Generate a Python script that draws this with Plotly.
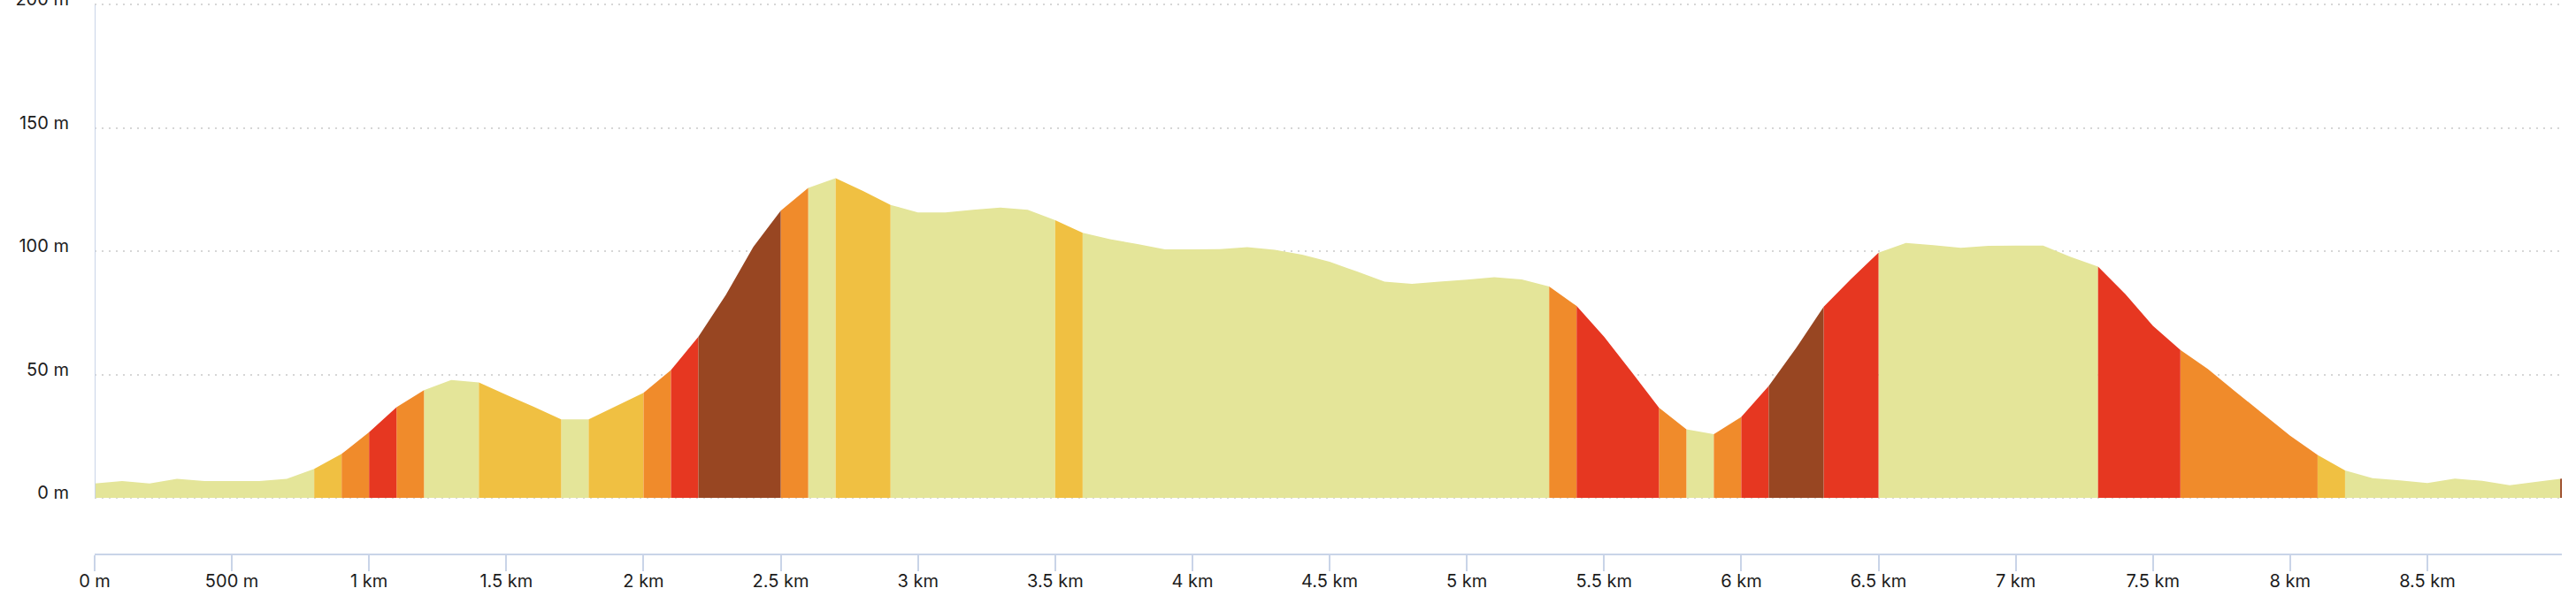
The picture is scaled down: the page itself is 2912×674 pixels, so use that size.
import plotly.graph_objects as go

# ---- data ----
distance_km = [
    0.0, 0.1, 0.2, 0.3, 0.4, 0.5, 0.6, 0.7, 0.8, 0.9,
    1.0, 1.1, 1.2, 1.3, 1.4, 1.5, 1.6, 1.7, 1.8, 1.9,
    2.0, 2.1, 2.2, 2.3, 2.4, 2.5, 2.6, 2.7, 2.8, 2.9,
    3.0, 3.1, 3.2, 3.3, 3.4, 3.5, 3.6, 3.7, 3.8, 3.9,
    4.0, 4.1, 4.2, 4.3, 4.4, 4.5, 4.6, 4.7, 4.8, 4.9,
    5.0, 5.1, 5.2, 5.3, 5.4, 5.5, 5.6, 5.7, 5.8, 5.9,
    6.0, 6.1, 6.2, 6.3, 6.4, 6.5, 6.6, 6.7, 6.8, 6.9,
    7.0, 7.1, 7.2, 7.3, 7.4, 7.5, 7.6, 7.7, 7.8, 7.9,
    8.0, 8.1, 8.2, 8.3, 8.4, 8.5, 8.6, 8.7, 8.8, 8.9,
    8.984, 8.99,
]

elevation_m = [
    5.8, 6.8, 5.8, 7.7, 6.8, 6.8, 6.8, 7.7, 11.7, 17.8,
    26.6, 36.8, 43.7, 47.8, 46.8, 41.8, 36.9, 31.8, 31.8, 37.2,
    42.6, 51.8, 65.4, 82.3, 101.8, 116.5, 125.7, 129.7, 124.5, 118.8,
    115.8, 115.8, 116.8, 117.7, 116.8, 112.6, 107.5, 104.9, 102.9, 100.8,
    100.8, 100.9, 101.7, 100.6, 98.6, 95.8, 91.8, 87.7, 86.8, 87.7,
    88.5, 89.5, 88.6, 85.7, 77.8, 65.4, 51.1, 36.6, 27.8, 25.8,
    32.8, 45.4, 60.8, 77.5, 88.8, 99.4, 103.4, 102.5, 101.4, 102.2,
    102.3, 102.3, 97.7, 93.8, 82.6, 69.8, 60.0, 52.3, 43.1, 34.2,
    25.2, 17.4, 11.1, 8.0, 7.1, 6.0, 7.8, 6.9, 5.1, 6.5,
    7.7, 7.8,
]

# gradient class of each segment between consecutive points
# L = gentle, Y = moderate, O = steep, R = very steep, B = extreme
segment_grade = [
    "L", "L", "L", "L", "L", "L", "L", "L", "Y", "O",   # 0.0 - 1.0
    "R", "O", "L", "L", "Y", "Y", "Y", "L", "Y", "Y",   # 1.0 - 2.0
    "O", "R", "B", "B", "B", "O", "L", "Y", "Y", "L",   # 2.0 - 3.0
    "L", "L", "L", "L", "L", "Y", "L", "L", "L", "L",   # 3.0 - 4.0
    "L", "L", "L", "L", "L", "L", "L", "L", "L", "L",   # 4.0 - 5.0
    "L", "L", "L", "O", "R", "R", "R", "O", "L", "O",   # 5.0 - 6.0
    "R", "B", "B", "R", "R", "L", "L", "L", "L", "L",   # 6.0 - 7.0
    "L", "L", "L", "R", "R", "R", "O", "O", "O", "O",   # 7.0 - 8.0
    "O", "Y", "L", "L", "L", "L", "L", "L", "L", "L",   # 8.0 - 9.0
    "B",
]

grade_order = ["L", "Y", "O", "R", "B"]
grade_colors = {
    "L": "#E4E599",
    "Y": "#F0C042",
    "O": "#F08B2B",
    "R": "#E63721",
    "B": "#984622",
}

x_tick_vals = [0, 0.5, 1, 1.5, 2, 2.5, 3, 3.5, 4, 4.5, 5, 5.5, 6, 6.5, 7, 7.5, 8, 8.5]
x_tick_text = ["0 m", "500 m", "1 km", "1.5 km", "2 km", "2.5 km", "3 km", "3.5 km",
               "4 km", "4.5 km", "5 km", "5.5 km", "6 km", "6.5 km", "7 km",
               "7.5 km", "8 km", "8.5 km"]
y_tick_vals = [0, 50, 100, 150, 200]
y_tick_text = ["0 m", "50 m", "100 m", "150 m", "200 m"]

# ---- figure ----
fig = go.Figure()
for g in grade_order:
    xs, ys = [], []
    for i, sg in enumerate(segment_grade):
        if sg != g:
            continue
        x0, x1 = distance_km[i], distance_km[i + 1]
        y0, y1 = elevation_m[i], elevation_m[i + 1]
        xs += [x0, x0, x1, x1, x0, None]
        ys += [0, y0, y1, 0, 0, None]
    fig.add_trace(go.Scatter(
        x=xs, y=ys, fill="toself", fillcolor=grade_colors[g],
        mode="none", hoverinfo="skip", showlegend=False,
    ))

axis_col = "#C9D4E8"
font = dict(family="Inter, Roboto, sans-serif", size=20, color="#1c1c1c")

fig.update_layout(
    width=2912, height=674,
    margin=dict(l=107, r=16, t=4, b=48, autoexpand=False),
    paper_bgcolor="white", plot_bgcolor="white",
    font=font,
    xaxis=dict(
        range=[0, distance_km[-1]],
        tickvals=x_tick_vals, ticktext=x_tick_text,
        ticks="outside", ticklen=18, tickwidth=2, tickcolor=axis_col,
        showline=True, linecolor=axis_col, linewidth=2,
        showgrid=False, zeroline=False, tickfont=font, automargin=False,
        ticklabeloverflow="allow", ticklabelstandoff=-6,
    ),
    yaxis=dict(
        range=[-22.6, 200.5],
        tickvals=y_tick_vals, ticktext=y_tick_text,
        showgrid=True, gridcolor="#D6D6D6", gridwidth=1.5, griddash="2px,6px",
        zeroline=False, showline=False, ticks="",
        ticklabelstandoff=28, ticklabelshift=-6, tickfont=font,
        automargin=False, ticklabeloverflow="allow",
    ),
    shapes=[dict(
        type="line", xref="x", yref="y", x0=0, x1=0, y0=0, y1=200,
        line=dict(color=axis_col, width=2), layer="above",
    )],
)

fig.write_html(
    "out.html",
    config={"displayModeBar": False},
    post_script="document.body.style.margin='0';document.body.style.overflow='hidden';",
)
